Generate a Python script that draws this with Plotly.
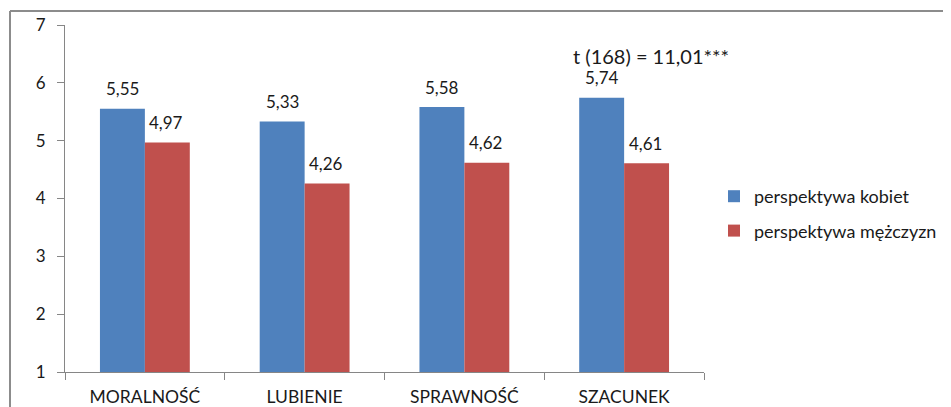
import plotly.graph_objects as go

categories = ["MORALNOŚĆ", "LUBIENIE", "SPRAWNOŚĆ", "SZACUNEK"]
kobiety = [5.55, 5.33, 5.58, 5.74]
mezczyzni = [4.97, 4.26, 4.62, 4.61]
series_names = ["perspektywa kobiet", "perspektywa mężczyzn"]
y_ticks = [1, 2, 3, 4, 5, 6, 7]
annotation_text = "t (168) = 11,01***"

FONT = "Lato"
TXT = "#1a1a1a"
OFF = 8  # default page body margin
W, H = 951 - OFF, 407 - OFF
L, R, T, B = 57, 247, 17, 35
pw, ph = W - L - R, H - T - B

def px_x(x):
    return (x - OFF - L) / pw

def px_y(y):
    return (H - B - (y - OFF)) / ph

colors = ["#4F81BD", "#C0504D"]
fig = go.Figure()
for name, vals, col, grp in [(series_names[0], kobiety, colors[0], "a"),
                             (series_names[1], mezczyzni, colors[1], "b")]:
    fig.add_trace(go.Bar(
        x=categories, y=vals, name=name,
        marker=dict(color=col, line=dict(width=0)),
        legendgroup=grp, hoverinfo="x+y",
    ))

# data labels above bars
for vals, xs in [(kobiety, -22), (mezczyzni, 21)]:
    for c, v in zip(categories, vals):
        fig.add_annotation(
            x=c, y=v, xref="x", yref="y", text=f"{v:.2f}".replace(".", ","),
            showarrow=False, xshift=xs, yshift=20,
            font=dict(family=FONT, size=17, color=TXT),
        )

fig.update_layout(
    width=W, height=H,
    margin=dict(l=L, r=R, t=T, b=B, pad=0, autoexpand=False),
    paper_bgcolor="white", plot_bgcolor="white",
    separators=", ",
    barmode="group", bargap=0.4375, bargroupgap=0,
    font=dict(family=FONT, size=17, color=TXT),
    showlegend=True,
    legend=dict(
        xref="container", yref="container",
        x=(714 - OFF) / W, y=1 - (178 - OFF) / H, xanchor="left", yanchor="top",
        font=dict(family=FONT, size=18, color=TXT),
        traceorder="grouped", tracegroupgap=8,
        bgcolor="rgba(0,0,0,0)",
    ),
)
fig.update_xaxes(
    range=[-0.5, len(categories) - 0.5], autorange=False,
    showline=True, linecolor="#868686", linewidth=1,
    ticks="outside", tickson="boundaries", ticklen=7, tickcolor="#868686",
    showgrid=False, tickfont=dict(family=FONT, size=17.5, color=TXT),
    ticklabelstandoff=9, automargin=False,
)
fig.update_yaxes(
    range=[1, 7], autorange=False, tickvals=y_ticks, showline=True, linecolor="#868686", linewidth=1,
    ticks="outside", ticklen=7, tickcolor="#868686", showgrid=False, zeroline=False,
    tickfont=dict(family=FONT, size=17, color=TXT), ticklabelstandoff=8, automargin=False,
)

fig.add_annotation(
    x="SZACUNEK", y=6.46, xref="x", yref="y", text=annotation_text,
    showarrow=False, xshift=27, font=dict(family=FONT, size=20, color=TXT),
)

bx, by = px_x(10), px_y(11)
fig.add_shape(type="line", xref="paper", yref="paper", x0=bx, x1=px_x(970), y0=by, y1=by,
              line=dict(color="#8c8c8c", width=2))
fig.add_shape(type="line", xref="paper", yref="paper", x0=bx, x1=bx, y0=by, y1=px_y(430),
              line=dict(color="#8c8c8c", width=2))

fig.write_html("out.html")
